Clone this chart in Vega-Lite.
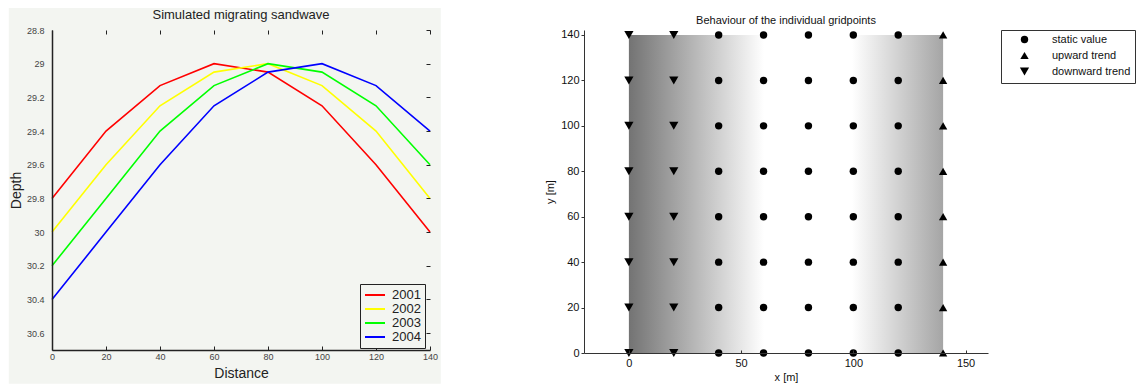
{
  "$schema": "https://vega.github.io/schema/vega-lite/v6.json",
  "padding": {"left": 8, "top": 8, "right": 2, "bottom": 1},
  "config": {
    "font": "Liberation Sans",
    "view": {"stroke": null},
    "axis": {"grid": false, "titleFontWeight": "normal"}
  },
  "datasets": {
    "waves": [
      {"distance": 0, "depth": 29.8, "year": "2001"},
      {"distance": 20, "depth": 29.4, "year": "2001"},
      {"distance": 40, "depth": 29.13, "year": "2001"},
      {"distance": 60, "depth": 29.0, "year": "2001"},
      {"distance": 80, "depth": 29.05, "year": "2001"},
      {"distance": 100, "depth": 29.25, "year": "2001"},
      {"distance": 120, "depth": 29.6, "year": "2001"},
      {"distance": 140, "depth": 30.0, "year": "2001"},
      {"distance": 0, "depth": 30.0, "year": "2002"},
      {"distance": 20, "depth": 29.6, "year": "2002"},
      {"distance": 40, "depth": 29.25, "year": "2002"},
      {"distance": 60, "depth": 29.05, "year": "2002"},
      {"distance": 80, "depth": 29.0, "year": "2002"},
      {"distance": 100, "depth": 29.13, "year": "2002"},
      {"distance": 120, "depth": 29.4, "year": "2002"},
      {"distance": 140, "depth": 29.8, "year": "2002"},
      {"distance": 0, "depth": 30.2, "year": "2003"},
      {"distance": 20, "depth": 29.8, "year": "2003"},
      {"distance": 40, "depth": 29.4, "year": "2003"},
      {"distance": 60, "depth": 29.13, "year": "2003"},
      {"distance": 80, "depth": 29.0, "year": "2003"},
      {"distance": 100, "depth": 29.05, "year": "2003"},
      {"distance": 120, "depth": 29.25, "year": "2003"},
      {"distance": 140, "depth": 29.6, "year": "2003"},
      {"distance": 0, "depth": 30.4, "year": "2004"},
      {"distance": 20, "depth": 30.0, "year": "2004"},
      {"distance": 40, "depth": 29.6, "year": "2004"},
      {"distance": 60, "depth": 29.25, "year": "2004"},
      {"distance": 80, "depth": 29.05, "year": "2004"},
      {"distance": 100, "depth": 29.0, "year": "2004"},
      {"distance": 120, "depth": 29.13, "year": "2004"},
      {"distance": 140, "depth": 29.4, "year": "2004"}
    ],
    "grid": [
      {"x": 0, "y": 0, "b": "downward trend"}, {"x": 0, "y": 20, "b": "downward trend"}, {"x": 0, "y": 40, "b": "downward trend"}, {"x": 0, "y": 60, "b": "downward trend"},
      {"x": 0, "y": 80, "b": "downward trend"}, {"x": 0, "y": 100, "b": "downward trend"}, {"x": 0, "y": 120, "b": "downward trend"}, {"x": 0, "y": 140, "b": "downward trend"},
      {"x": 20, "y": 0, "b": "downward trend"}, {"x": 20, "y": 20, "b": "downward trend"}, {"x": 20, "y": 40, "b": "downward trend"}, {"x": 20, "y": 60, "b": "downward trend"},
      {"x": 20, "y": 80, "b": "downward trend"}, {"x": 20, "y": 100, "b": "downward trend"}, {"x": 20, "y": 120, "b": "downward trend"}, {"x": 20, "y": 140, "b": "downward trend"},
      {"x": 40, "y": 0, "b": "static value"}, {"x": 40, "y": 20, "b": "static value"}, {"x": 40, "y": 40, "b": "static value"}, {"x": 40, "y": 60, "b": "static value"},
      {"x": 40, "y": 80, "b": "static value"}, {"x": 40, "y": 100, "b": "static value"}, {"x": 40, "y": 120, "b": "static value"}, {"x": 40, "y": 140, "b": "static value"},
      {"x": 60, "y": 0, "b": "static value"}, {"x": 60, "y": 20, "b": "static value"}, {"x": 60, "y": 40, "b": "static value"}, {"x": 60, "y": 60, "b": "static value"},
      {"x": 60, "y": 80, "b": "static value"}, {"x": 60, "y": 100, "b": "static value"}, {"x": 60, "y": 120, "b": "static value"}, {"x": 60, "y": 140, "b": "static value"},
      {"x": 80, "y": 0, "b": "static value"}, {"x": 80, "y": 20, "b": "static value"}, {"x": 80, "y": 40, "b": "static value"}, {"x": 80, "y": 60, "b": "static value"},
      {"x": 80, "y": 80, "b": "static value"}, {"x": 80, "y": 100, "b": "static value"}, {"x": 80, "y": 120, "b": "static value"}, {"x": 80, "y": 140, "b": "static value"},
      {"x": 100, "y": 0, "b": "static value"}, {"x": 100, "y": 20, "b": "static value"}, {"x": 100, "y": 40, "b": "static value"}, {"x": 100, "y": 60, "b": "static value"},
      {"x": 100, "y": 80, "b": "static value"}, {"x": 100, "y": 100, "b": "static value"}, {"x": 100, "y": 120, "b": "static value"}, {"x": 100, "y": 140, "b": "static value"},
      {"x": 120, "y": 0, "b": "static value"}, {"x": 120, "y": 20, "b": "static value"}, {"x": 120, "y": 40, "b": "static value"}, {"x": 120, "y": 60, "b": "static value"},
      {"x": 120, "y": 80, "b": "static value"}, {"x": 120, "y": 100, "b": "static value"}, {"x": 120, "y": 120, "b": "static value"}, {"x": 120, "y": 140, "b": "static value"},
      {"x": 140, "y": 0, "b": "upward trend"}, {"x": 140, "y": 20, "b": "upward trend"}, {"x": 140, "y": 40, "b": "upward trend"}, {"x": 140, "y": 60, "b": "upward trend"},
      {"x": 140, "y": 80, "b": "upward trend"}, {"x": 140, "y": 100, "b": "upward trend"}, {"x": 140, "y": 120, "b": "upward trend"}, {"x": 140, "y": 140, "b": "upward trend"}
    ]
  },
  "spacing": 103,
  "hconcat": [
    {
      "width": 378,
      "height": 320,
      "title": {"text": "Simulated migrating sandwave", "fontSize": 13, "fontWeight": "normal", "color": "#222", "frame": "group", "offset": 0, "dy": 14},
      "resolve": {"axis": {"x": "independent", "y": "independent"}},
      "layer": [
        {
          "data": {"values": [{}]},
          "mark": {"type": "rect", "color": "#f3f5f1"},
          "encoding": {
            "x": {"datum": -16, "type": "quantitative", "scale": {"domain": [0, 140], "nice": false, "zero": false},
                  "axis": {"orient": "top", "zindex": 1, "minExtent": 0, "maxExtent": 0, "labels": false, "domain": false, "title": null, "values": [0, 20, 40, 60, 80, 100, 120, 140], "tickSize": -4, "tickColor": "#222"}},
            "x2": {"datum": 144},
            "y": {"datum": 28.67, "type": "quantitative", "scale": {"domain": [28.8, 30.7], "reverse": true, "nice": false, "zero": false},
                  "axis": {"orient": "right", "zindex": 1, "minExtent": 0, "maxExtent": 0, "labels": false, "domain": false, "title": null, "values": [28.8, 29, 29.2, 29.4, 29.6, 29.8, 30, 30.2, 30.4, 30.6], "tickSize": -4, "tickColor": "#222"}},
            "y2": {"datum": 30.9}
          }
        },
        {
          "data": {"name": "waves"},
          "mark": {"type": "line", "strokeWidth": 1.6},
          "encoding": {
            "x": {"field": "distance", "type": "quantitative", "scale": {"domain": [0, 140], "nice": false, "zero": false},
                  "axis": {"orient": "bottom", "zindex": 1, "title": "Distance", "titleFontSize": 14, "titleColor": "#222", "titlePadding": 5, "labelFontSize": 9, "labelColor": "#444", "labelPadding": 6, "values": [0, 20, 40, 60, 80, 100, 120, 140], "tickSize": -4, "tickColor": "#222", "domainColor": "#222", "domainWidth": 1.5, "labelFlush": false}},
            "y": {"field": "depth", "type": "quantitative", "scale": {"domain": [28.8, 30.7], "reverse": true, "nice": false, "zero": false},
                  "axis": {"orient": "left", "zindex": 1, "title": "Depth", "titleFontSize": 14, "titleColor": "#222", "titlePadding": 3, "labelFontSize": 9, "labelColor": "#444", "labelPadding": 8, "ticks": false, "values": [28.8, 29, 29.2, 29.4, 29.6, 29.8, 30, 30.2, 30.4, 30.6], "format": "~g", "domainColor": "#222", "domainWidth": 1.5}},
            "color": {"field": "year", "type": "nominal",
                      "scale": {"domain": ["2001", "2002", "2003", "2004"], "range": ["#ff0000", "#ffff00", "#00ff00", "#0000ff"]},
                      "legend": {"orient": "none", "legendX": 308, "legendY": 254, "title": null, "strokeColor": "#222", "fillColor": "#f3f5f1", "padding": 4, "symbolType": "M-1.67,0H1.67", "symbolStrokeWidth": 2, "symbolSize": 144, "symbolOffset": 4, "labelOffset": 10, "labelFontSize": 13, "labelColor": "#222", "rowPadding": 0}}
          }
        }
      ]
    },
    {
      "width": 404,
      "height": 323,
      "title": {"text": "Behaviour of the individual gridpoints", "fontSize": 11, "fontWeight": "normal", "color": "#111", "frame": "group", "offset": 3},
      "layer": [
        {
          "data": {"values": [{}]},
          "mark": {"type": "rect", "color": {"gradient": "linear", "x1": 0, "y1": 0, "x2": 1, "y2": 0,
                   "stops": [{"offset": 0, "color": "#737373"}, {"offset": 0.43, "color": "#ffffff"}, {"offset": 0.71, "color": "#ffffff"}, {"offset": 1, "color": "#a5a5a5"}]}},
          "encoding": {
            "x": {"datum": 0, "type": "quantitative", "scale": {"domain": [-20, 160], "nice": false, "zero": false},
                  "axis": {"zindex": 1, "title": "x [m]", "titleFontSize": 11, "titleColor": "#111", "titlePadding": 3, "labelFontSize": 11, "labelColor": "#111", "labelPadding": 7, "values": [0, 50, 100, 150], "tickSize": -3, "tickColor": "#333", "domainColor": "#333", "labelFlush": false}},
            "x2": {"datum": 140},
            "y": {"datum": 0, "type": "quantitative", "scale": {"domain": [0, 142.2], "nice": false, "zero": false},
                  "axis": {"zindex": 1, "title": "y [m]", "titleFontSize": 11, "titleColor": "#111", "titlePadding": 5, "labelFontSize": 11, "labelColor": "#111", "labelPadding": 2, "values": [0, 20, 40, 60, 80, 100, 120, 140], "tickSize": 3, "tickColor": "#333", "domainColor": "#333"}},
            "y2": {"datum": 140}
          }
        },
        {
          "data": {"name": "grid"},
          "mark": {"type": "point", "filled": true, "color": "black", "opacity": 1},
          "encoding": {
            "x": {"field": "x", "type": "quantitative", "scale": {"domain": [-20, 160], "nice": false, "zero": false},
                  "axis": {"zindex": 1, "title": "x [m]", "titleFontSize": 11, "titleColor": "#111", "titlePadding": 3, "labelFontSize": 11, "labelColor": "#111", "labelPadding": 7, "values": [0, 50, 100, 150], "tickSize": -3, "tickColor": "#333", "domainColor": "#333", "labelFlush": false}},
            "y": {"field": "y", "type": "quantitative", "scale": {"domain": [0, 142.2], "nice": false, "zero": false},
                  "axis": {"zindex": 1, "title": "y [m]", "titleFontSize": 11, "titleColor": "#111", "titlePadding": 5, "labelFontSize": 11, "labelColor": "#111", "labelPadding": 2, "values": [0, 20, 40, 60, 80, 100, 120, 140], "tickSize": 3, "tickColor": "#333", "domainColor": "#333"}},
            "shape": {"field": "b", "type": "nominal",
                      "scale": {"domain": ["static value", "upward trend", "downward trend"], "range": ["circle", "triangle-up", "triangle-down"]},
                      "legend": {"orient": "right", "offset": 13, "title": null, "strokeColor": "#333", "padding": 4, "symbolFillColor": "black", "symbolStrokeColor": "black", "symbolOffset": 14, "labelOffset": 22, "labelFontSize": 11, "labelColor": "#111", "rowPadding": 1}},
            "size": {"field": "b", "type": "nominal",
                     "scale": {"domain": ["static value", "upward trend", "downward trend"], "range": [55, 85, 85]},
                     "legend": {"orient": "right", "offset": 13, "title": null, "strokeColor": "#333", "padding": 4, "symbolFillColor": "black", "symbolStrokeColor": "black", "symbolOffset": 14, "labelOffset": 22, "labelFontSize": 11, "labelColor": "#111", "rowPadding": 1}}
          }
        }
      ]
    }
  ]
}
